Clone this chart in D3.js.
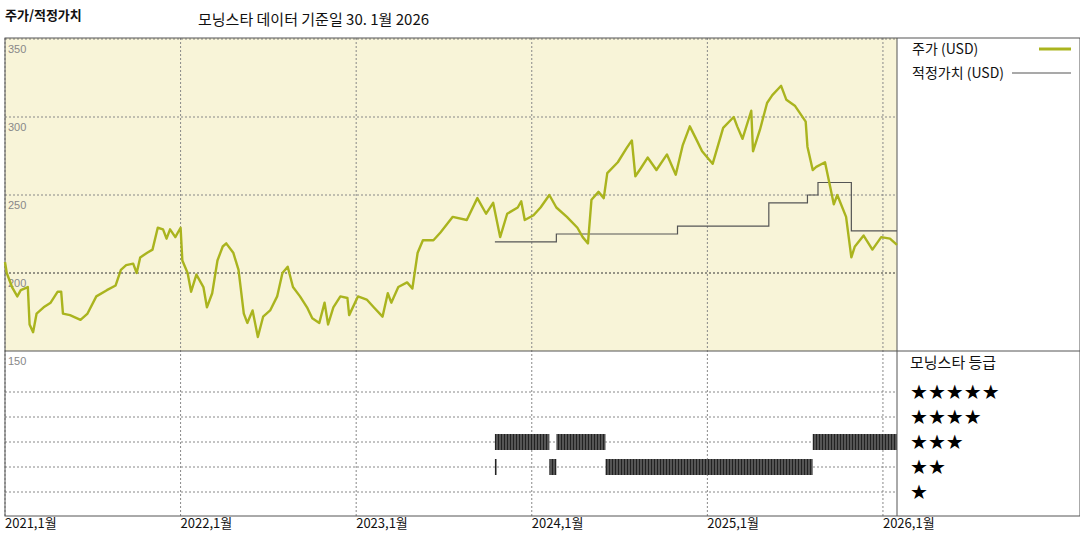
<!DOCTYPE html>
<html><head><meta charset="utf-8">
<script src="https://cdn.jsdelivr.net/npm/d3@7"></script>
<style>
body{margin:0;background:#fff;font-family:"Noto Sans CJK KR","Noto Sans",sans-serif;}
</style></head><body>
<svg id="chart" width="1080" height="540"></svg>
<script>
// price (USD), t = decimal year
var priceT = [2021.00,2021.01,2021.04,2021.07,2021.09,2021.13,2021.14,2021.16,2021.18,2021.22,2021.26,2021.30,2021.32,2021.33,2021.37,2021.43,2021.47,2021.52,2021.58,2021.63,2021.66,2021.69,2021.73,2021.75,2021.77,2021.81,2021.84,2021.87,2021.90,2021.92,2021.94,2021.97,2022.00,
  2022.01,2022.04,2022.06,2022.09,2022.13,2022.15,2022.18,2022.21,2022.24,2022.26,2022.30,2022.33,2022.36,2022.38,2022.41,2022.44,2022.47,2022.51,2022.55,2022.58,2022.61,2022.64,2022.68,2022.72,2022.75,2022.79,2022.82,2022.84,2022.87,2022.91,2022.95,2022.96,
  2023.01,2023.06,2023.10,2023.15,2023.18,2023.20,2023.24,2023.29,2023.32,2023.35,2023.38,2023.44,2023.48,2023.55,2023.63,2023.69,2023.74,2023.78,2023.82,2023.86,2023.92,2023.94,2023.96,
  2024.01,2024.05,2024.10,2024.14,2024.20,2024.26,2024.29,2024.32,2024.34,2024.38,2024.41,2024.43,2024.49,2024.54,2024.57,2024.59,2024.62,2024.66,2024.71,2024.77,2024.82,2024.86,2024.90,2024.94,2024.97,
  2025.03,2025.09,2025.15,2025.17,2025.20,2025.25,2025.26,2025.30,2025.34,2025.37,2025.42,2025.45,2025.50,2025.56,2025.57,2025.60,2025.62,2025.67,2025.70,2025.72,2025.74,2025.79,2025.82,2025.84,2025.89,2025.94,2025.99,2026.04,2026.08];
var priceV = [207,200,191,185,189,191,167,162,174,178,181,188,188,174,173,170,174,185,189,192,202,205,206,200,210,213,215,229,228,222,228,223,229,
  208,200,188,199,191,178,187,208,217,219,213,202,174,168,176,159,172,176,185,200,204,191,185,178,171,168,181,167,178,185,184,173,
  185,183,178,172,187,181,191,194,190,213,221,221,226,236,234,248,238,245,223,238,242,246,234,
  237,242,250,242,236,229,223,219,247,252,248,264,271,280,285,262,267,274,266,276,263,282,294,285,278,
  270,293,300,294,286,304,278,292,309,314,320,311,307,297,281,266,268,271,255,244,250,236,210,217,224,215,223,222,218];

// fair value steps: value from t onwards
var fairT = [2023.79,2024.14,2024.83,2025.35,2025.57,2025.63,2025.82];
var fairV = [220,225,230,245,250,258,227];
var fairEnd = 2026.08;

// star rating periods
var ratingStart = [2023.79,2023.79,2024.10,2024.14,2024.42,2025.60];
var ratingEnd   = [2024.10,2023.80,2024.14,2024.42,2025.60,2026.08];
var ratingStars = [3,2,2,3,2,3];

var yearTicks = [2021,2022,2023,2024,2025,2026];
var yTicks = [350,300,250,200];

var svg = d3.select('#chart');
var L = 5, R = 897, T = 38, M = 351, B = 516;

var x = d3.scaleLinear().domain([2021, 2026.08]).range([L, R]);
var y = d3.scaleLinear().domain([150, 350]).range([M, T + 1]);
var yr = d3.scaleLinear().domain([1, 5]).range([492, 392]);

svg.append('rect').attr('x', L).attr('y', T).attr('width', R - L).attr('height', M - T).attr('fill', '#f8f4d8');

// horizontal grid (upper)
svg.selectAll('line.hg').data(yTicks).enter().append('line')
  .attr('x1', L).attr('x2', R).attr('y1', function(d) { return y(d); }).attr('y2', function(d) { return y(d); })
  .attr('stroke', function(d) { return d === 200 ? '#333' : '#888'; })
  .attr('stroke-dasharray', '2,2').attr('stroke-width', 1);
svg.selectAll('text.yl').data(yTicks.concat([150])).enter().append('text')
  .attr('x', L + 3).attr('y', function(d) { return y(d) + 14; })
  .attr('font-size', 11).attr('fill', '#888').attr('font-family', 'Liberation Sans, sans-serif')
  .text(function(d) { return d; });

// rating grid (lower)
svg.selectAll('line.rg').data([5,4,3,2,1]).enter().append('line')
  .attr('x1', L).attr('x2', R).attr('y1', function(d) { return yr(d); }).attr('y2', function(d) { return yr(d); })
  .attr('stroke', '#888').attr('stroke-dasharray', '2,2');

// vertical grid
svg.selectAll('line.vg').data(yearTicks).enter().append('line')
  .attr('x1', function(d) { return x(d); }).attr('x2', function(d) { return x(d); })
  .attr('y1', T).attr('y2', B).attr('stroke', '#888').attr('stroke-dasharray', '2,2');

// frame
svg.append('rect').attr('x', L).attr('y', T).attr('width', 1080 - L).attr('height', B - T)
  .attr('fill', 'none').attr('stroke', '#555');
svg.append('line').attr('x1', L).attr('x2', 1080).attr('y1', M).attr('y2', M).attr('stroke', '#555');
svg.append('line').attr('x1', R).attr('x2', R).attr('y1', T).attr('y2', B).attr('stroke', '#555');

// fair value step line
var fairPts = fairT.map(function(t, i) { return [t, fairV[i]]; });
fairPts.push([fairEnd, fairV[fairV.length - 1]]);
svg.append('path').datum(fairPts)
  .attr('d', d3.line().curve(d3.curveStepAfter).x(function(d) { return x(d[0]); }).y(function(d) { return y(d[1]); }))
  .attr('fill', 'none').attr('stroke', '#555').attr('stroke-width', 1.2);

// price
svg.append('path').datum(priceT.map(function(t, i) { return [t, priceV[i]]; }))
  .attr('d', d3.line().x(function(d) { return x(d[0]); }).y(function(d) { return y(d[1]); }))
  .attr('fill', 'none').attr('stroke', '#aab41e').attr('stroke-width', 2.4).attr('stroke-linejoin', 'round');

// rating bars with hatch pattern
var defs = svg.append('defs');
var pat = defs.append('pattern').attr('id', 'hatch').attr('patternUnits', 'userSpaceOnUse')
  .attr('width', 3).attr('height', 20);
pat.append('rect').attr('width', 3).attr('height', 20).attr('fill', '#555');
pat.append('rect').attr('width', 1).attr('height', 20).attr('fill', '#222');
svg.selectAll('rect.rb').data(ratingStars).enter().append('rect')
  .attr('x', function(d, i) { return x(ratingStart[i]); })
  .attr('width', function(d, i) { return Math.max(1, x(ratingEnd[i]) - x(ratingStart[i])); })
  .attr('y', function(d) { return yr(d) - 8; }).attr('height', 16)
  .attr('fill', 'url(#hatch)');

// x labels
svg.selectAll('text.xl').data(yearTicks).enter().append('text')
  .attr('x', function(d) { return x(d); }).attr('y', 528)
  .attr('font-size', 13).attr('fill', '#111')
  .text(function(d) { return d + ',1월'; });

// titles
svg.append('text').attr('x', 5).attr('y', 20).attr('font-size', 13).attr('font-weight', 'bold').attr('fill', '#111').text('주가/적정가치');
svg.append('text').attr('x', 198).attr('y', 25).attr('font-size', 15).attr('fill', '#111').text('모닝스타 데이터 기준일 30. 1월 2026');

// legend
svg.append('text').attr('x', 912).attr('y', 54).attr('font-size', 14).attr('fill', '#111').text('주가 (USD)');
svg.append('line').attr('x1', 1039).attr('x2', 1071).attr('y1', 49).attr('y2', 49).attr('stroke', '#aab41e').attr('stroke-width', 3);
svg.append('text').attr('x', 912).attr('y', 78).attr('font-size', 14).attr('fill', '#111').text('적정가치 (USD)');
svg.append('line').attr('x1', 1012).attr('x2', 1071).attr('y1', 73).attr('y2', 73).attr('stroke', '#555').attr('stroke-width', 1.2);

svg.append('text').attr('x', 910).attr('y', 368).attr('font-size', 15).attr('fill', '#111').text('모닝스타 등급');
svg.selectAll('text.st').data([5,4,3,2,1]).enter().append('text')
  .attr('x', 910).attr('y', function(d) { return yr(d) + 7; })
  .attr('font-size', 20).attr('fill', '#000').attr('font-family', 'DejaVu Sans, sans-serif')
  .text(function(d) { return '★'.repeat(d); });
</script></body></html>
